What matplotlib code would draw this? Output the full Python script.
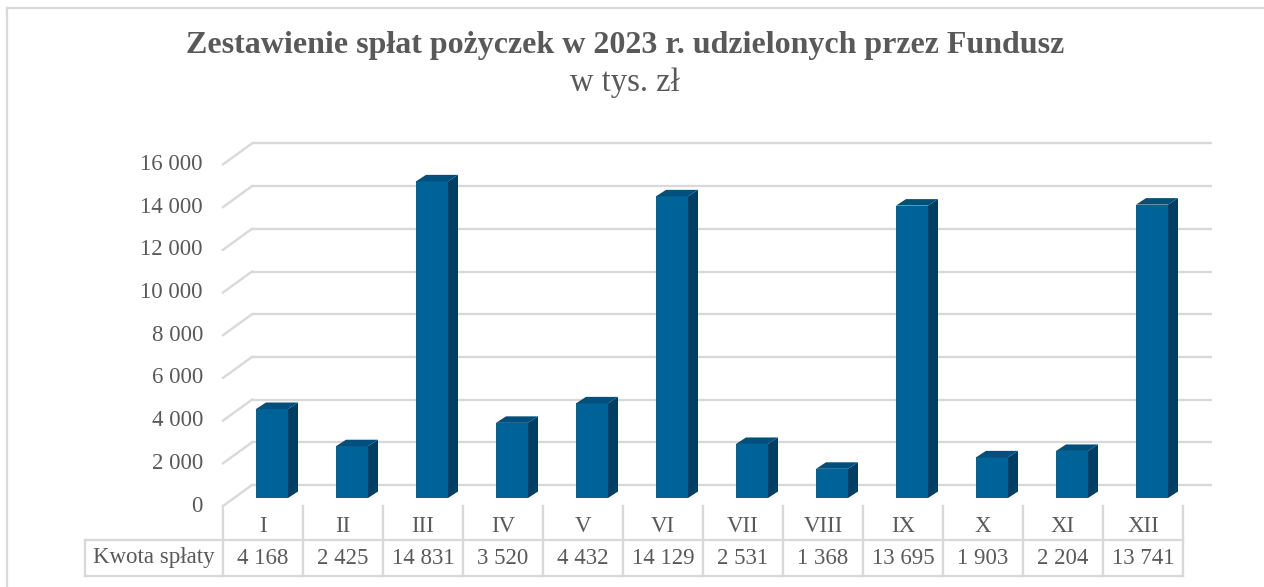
import matplotlib
matplotlib.use("Agg")
import matplotlib.pyplot as plt
from matplotlib.patches import Polygon
from matplotlib.lines import Line2D

# ---- data ----
months = ["I", "II", "III", "IV", "V", "VI", "VII", "VIII", "IX", "X", "XI", "XII"]
values = [4168, 2425, 14831, 3520, 4432, 14129, 2531, 1368, 13695, 1903, 2204, 13741]
yticks = [0, 2000, 4000, 6000, 8000, 10000, 12000, 14000, 16000]
row_label = "Kwota spłaty"
title = "Zestawienie spłat pożyczek w 2023 r. udzielonych przez Fundusz"
subtitle = "w tys. zł"

W, H = 1264, 587
plt.rcParams['font.family'] = ['Liberation Serif', 'DejaVu Serif']
TXT = "#595959"
GRID = "#D9D9D9"
FRONT = "#006397"
SIDE = "#003F62"
TOP = "#004F7C"
FS = 16.5

fig = plt.figure(figsize=(W / 100, H / 100), dpi=100)

# main axes: the plane in which bar fronts stand (pixel geometry)
x0, x1 = 232, 1192          # pixels for x=-0.5 .. 11.5
ybase, ytop = 498, 498 - 16000 * 0.02135
ax = fig.add_axes([x0 / W, (H - ybase) / H, (x1 - x0) / W, (ybase - ytop) / H])
ax.set_xlim(-0.5, len(months) - 0.5)
ax.set_ylim(0, 16000)
ax.axis("off")

px_x = (x1 - x0) / len(months)        # pixels per x unit
px_y = (ybase - ytop) / 16000          # pixels per y unit

def ox(p):
    return p / px_x

def oy(p):
    return p / px_y

# back wall gridlines + left side wall lines
bdx, bdy = 20, 13      # bar plane -> back wall
fdx, fdy = -9, -8      # bar plane -> front edge
for v in yticks:
    ax.plot([-0.5 + ox(bdx), len(months) - 0.5 + ox(bdx)], [v + oy(bdy), v + oy(bdy)],
            color=GRID, lw=1.7, zorder=1, clip_on=False, solid_capstyle="butt")
    ax.plot([-0.5 + ox(fdx), -0.5 + ox(bdx)], [v + oy(fdy), v + oy(bdy)],
            color=GRID, lw=1.7, zorder=1, clip_on=False)
    ax.text(-0.5 + ox(-29), v + oy(fdy), f"{v:,}".replace(",", " "),
            ha="right", va="center", fontsize=FS, color=TXT)

# bars with 3-D look
bw = 0.4
ddx, ddy = ox(10), oy(6.5)
xs = list(range(len(months)))
ax.bar(xs, values, width=bw, color=FRONT, zorder=3, linewidth=0)
for x, v in zip(xs, values):
    r, l = x + bw / 2, x - bw / 2
    ax.add_patch(Polygon([(r, 0), (r + ddx, ddy), (r + ddx, v + ddy), (r, v)],
                         closed=True, facecolor=SIDE, edgecolor="none", zorder=3, clip_on=False))
    ax.add_patch(Polygon([(l, v), (l + ddx, v + ddy), (r + ddx, v + ddy), (r, v)],
                         closed=True, facecolor=TOP, edgecolor="none", zorder=3, clip_on=False))

# data table axes (front plane), y in pixels from bottom of table
t_left, t_right, t_top, t_bot = 223, 1183, 506, 576
tax = fig.add_axes([t_left / W, (H - t_bot) / H, (t_right - t_left) / W, (t_bot - t_top) / H])
tax.set_xlim(-0.5, len(months) - 0.5)
tax.set_ylim(0, t_bot - t_top)
tax.axis("off")
mid = t_bot - 540
lab_left = -0.5 - (t_left - 85) / 80
for k in range(len(months) + 1):
    tax.add_line(Line2D([k - 0.5, k - 0.5], [0, t_bot - t_top], color=GRID, lw=1.7, clip_on=False))
for yy in (0, mid):
    tax.add_line(Line2D([lab_left, len(months) - 0.5], [yy, yy], color=GRID, lw=1.7, clip_on=False))
tax.add_line(Line2D([lab_left, lab_left], [0, mid], color=GRID, lw=1.7, clip_on=False))
for i, (m, v) in enumerate(zip(months, values)):
    tax.text(i, mid + 14, m, ha="center", va="center", fontsize=FS, color=TXT)
    tax.text(i, mid / 2, f"{v:,}".replace(",", " "), ha="center", va="center", fontsize=FS, color=TXT)
tax.text((lab_left + -0.5) / 2, mid / 2, row_label, ha="center", va="center",
         fontsize=FS, color=TXT, clip_on=False)

# frame
fig.add_artist(Line2D([7 / W, 1], [1 - 8 / H, 1 - 8 / H], color=GRID, lw=1.6))
fig.add_artist(Line2D([7 / W, 7 / W], [0, 1 - 8 / H], color=GRID, lw=1.6))

# titles
fig.text(625 / W, 1 - 46 / H, title, ha="center", va="center", fontsize=23,
         fontweight="bold", color=TXT)
fig.text(625 / W, 1 - 83 / H, subtitle, ha="center", va="center", fontsize=23.5, color=TXT)

fig.savefig("out.png", dpi=100, facecolor="white")
